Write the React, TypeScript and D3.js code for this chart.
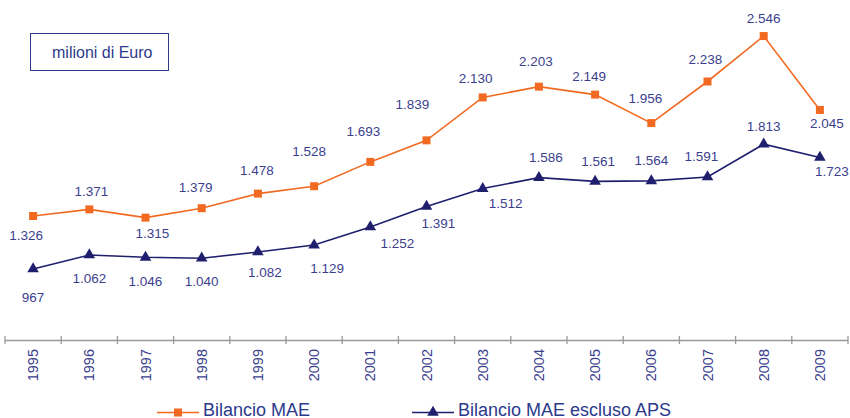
import * as d3 from 'd3';
import { useEffect, useRef } from 'react';

const years = ['1995', '1996', '1997', '1998', '1999', '2000', '2001', '2002', '2003', '2004', '2005', '2006', '2007', '2008', '2009'];
const bilancioMae = [1326, 1371, 1315, 1379, 1478, 1528, 1693, 1839, 2130, 2203, 2149, 1956, 2238, 2546, 2045];
const bilancioEsclusoAps = [967, 1062, 1046, 1040, 1082, 1129, 1252, 1391, 1512, 1586, 1561, 1564, 1591, 1813, 1723];

// label placement relative to the marker (hand placed in the original, like Excel)
const maeLabelOffsets = [[-7, 19], [2, -18], [7, 16], [-6, -21], [-1, -23], [-5, -35], [-7, -31], [-14, -36], [-7, -19], [-3, -25], [-6, -18], [-6, -25], [-2, -22], [0, -18], [7, 13]];
const apsLabelOffsets = [[0, 28], [0, 23], [0, 24], [0, 23], [7, 20], [13, 23], [27, 16], [12, 17], [23, 15], [7, -20], [3, -20], [0, -21], [-6, -21], [0, -18], [12, 14]];

const ORANGE = '#f26a22';
const NAVY = '#1f1f6e';
const TEXT = '#3b3f8e';
const FONT = '"Liberation Sans", Arial, sans-serif';

const App = () => {
  const ref = useRef<SVGSVGElement | null>(null);

  useEffect(() => {
    const width = 850;
    const height = 418;
    const svg = d3.select(ref.current).attr('width', width).attr('height', height);
    svg.selectAll('*').remove();

    const x = d3.scaleBand<string>().domain(years).range([5, 848]);
    const y = d3.scaleLinear().domain([0, 2700]).range([411.6, 13.35]);
    const cx = (yr: string) => (x(yr) as number) + x.bandwidth() / 2;

    // unit box
    svg.append('rect')
      .attr('x', 30.5).attr('y', 33.5).attr('width', 138).attr('height', 37)
      .attr('fill', 'white').attr('stroke', '#2e3a8c').attr('stroke-width', 1);
    svg.append('text')
      .attr('x', 52).attr('y', 58).attr('font-family', FONT).attr('font-size', 16)
      .attr('fill', '#2e3a8c').text('milioni di Euro');

    // x axis
    const axisY = 340;
    svg.append('line')
      .attr('x1', 5).attr('x2', 848).attr('y1', axisY + 0.5).attr('y2', axisY + 0.5)
      .attr('stroke', '#999').attr('stroke-width', 1.3);
    const bounds = years.map((yr) => x(yr) as number).concat([848]);
    svg.selectAll('.tick').data(bounds).enter().append('line')
      .attr('x1', (d) => d).attr('x2', (d) => d)
      .attr('y1', axisY - 4).attr('y2', axisY + 4)
      .attr('stroke', '#999').attr('stroke-width', 1.3);
    svg.selectAll('.year').data(years).enter().append('text')
      .attr('transform', (d) => `translate(${cx(d)},349) rotate(-90)`)
      .attr('text-anchor', 'end').attr('dy', '0.35em')
      .attr('font-family', FONT).attr('font-size', 14.5).attr('fill', TEXT)
      .text((d) => d);

    const line = d3.line<number>().x((_, i) => cx(years[i])).y((d) => y(d));

    const drawSeries = (values: number[], color: string, symbol: d3.SymbolType, size: number, offsets: number[][]) => {
      svg.append('path').attr('d', line(values)).attr('fill', 'none')
        .attr('stroke', color).attr('stroke-width', 1.6);
      const sym = d3.symbol().type(symbol).size(size);
      svg.append('g').selectAll('path').data(values).enter().append('path')
        .attr('d', sym)
        .attr('transform', (d, i) => `translate(${cx(years[i])},${y(d)})`)
        .attr('fill', color);
      svg.append('g').selectAll('text').data(values).enter().append('text')
        .attr('x', (_, i) => cx(years[i]) + offsets[i][0])
        .attr('y', (d, i) => y(d) + offsets[i][1])
        .attr('dy', '0.35em').attr('text-anchor', 'middle')
        .attr('font-family', FONT).attr('font-size', 13.5).attr('fill', TEXT)
        .text((d) => d3.format(',')(d).replace(',', '.'));
    };

    drawSeries(bilancioMae, ORANGE, d3.symbolSquare, 64, maeLabelOffsets);
    drawSeries(bilancioEsclusoAps, NAVY, d3.symbolTriangle, 58, apsLabelOffsets);

    // legend
    const legend = [
      { label: 'Bilancio MAE', color: ORANGE, symbol: d3.symbolSquare, size: 64, x0: 157 },
      { label: 'Bilancio MAE escluso APS', color: NAVY, symbol: d3.symbolTriangle, size: 58, x0: 412 },
    ];
    const ly = 412.5;
    legend.forEach((l) => {
      svg.append('line').attr('x1', l.x0).attr('x2', l.x0 + 42).attr('y1', ly).attr('y2', ly)
        .attr('stroke', l.color).attr('stroke-width', 1.6);
      svg.append('path').attr('d', d3.symbol().type(l.symbol).size(l.size)())
        .attr('transform', `translate(${l.x0 + 21},${ly})`).attr('fill', l.color);
      svg.append('text').attr('x', l.x0 + 46).attr('y', 415.5)
        .attr('font-family', FONT).attr('font-size', 18).attr('fill', '#2b3a8c')
        .text(l.label);
    });
  }, []);

  return <svg ref={ref} style={{ position: 'absolute', left: 0, top: 0, display: 'block' }}></svg>;
};

export default App;
